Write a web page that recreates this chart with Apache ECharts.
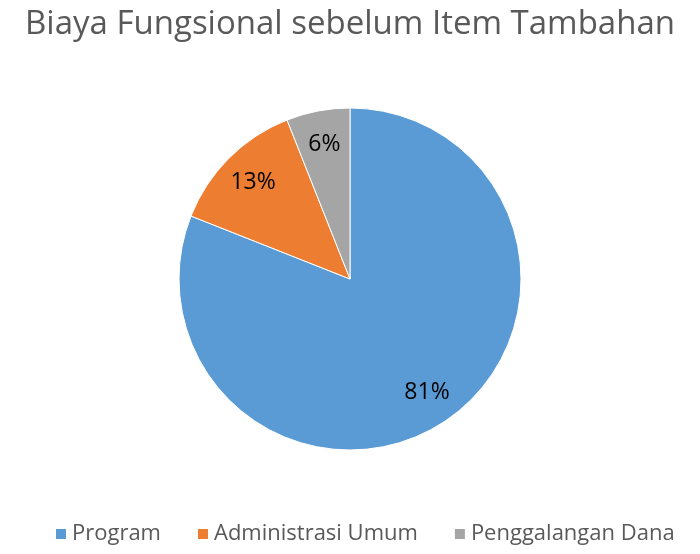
<!DOCTYPE html>
<html><head><meta charset="utf-8">
<script src="https://cdn.jsdelivr.net/npm/echarts@6/dist/echarts.min.js"></script>
<style>html,body{margin:0;padding:0;background:#fff}#c{width:700px;height:554px}</style>
</head><body><div id="c"></div>
<script>
const categories = ["Program", "Administrasi Umum", "Penggalangan Dana"];
const values = [81, 13, 6];
const colors = ["#5B9BD5", "#ED7D31", "#A5A5A5"];
const data = categories.map((n, i) => ({ name: n, value: values[i] }));
const chart = echarts.init(document.getElementById('c'));
const font = '"Open Sans", "Noto Sans", sans-serif';
chart.setOption({
  animation: false,
  color: colors,
  title: {
    text: "Biaya Fungsional sebelum Item Tambahan",
    left: 'center', top: 3,
    textStyle: { fontFamily: font, fontSize: 33, fontWeight: 'normal', color: '#595959' }
  },
  legend: {
    bottom: 4, left: 49,
    icon: 'rect', itemWidth: 12, itemHeight: 12, itemGap: 35,
    textStyle: { fontFamily: font, fontSize: 22, color: '#595959' },
    data: categories
  },
  series: [{
    type: 'pie', center: [350, 279], radius: [0, 171],
    startAngle: 90, clockwise: true,
    data: data,
    label: { show: false }, labelLine: { show: false },
    itemStyle: { borderColor: '#fff', borderWidth: 1 },
    emphasis: { disabled: true }
  }, {
    type: 'pie', center: [350, 279], radius: [96, 172],
    startAngle: 90, clockwise: true, silent: true,
    data: data,
    itemStyle: { color: 'transparent' },
    label: { show: true, position: 'inside', formatter: '{c}%',
      fontFamily: font, fontSize: 23, color: '#000' },
    labelLine: { show: false },
    emphasis: { disabled: true }
  }]
});
</script></body></html>
